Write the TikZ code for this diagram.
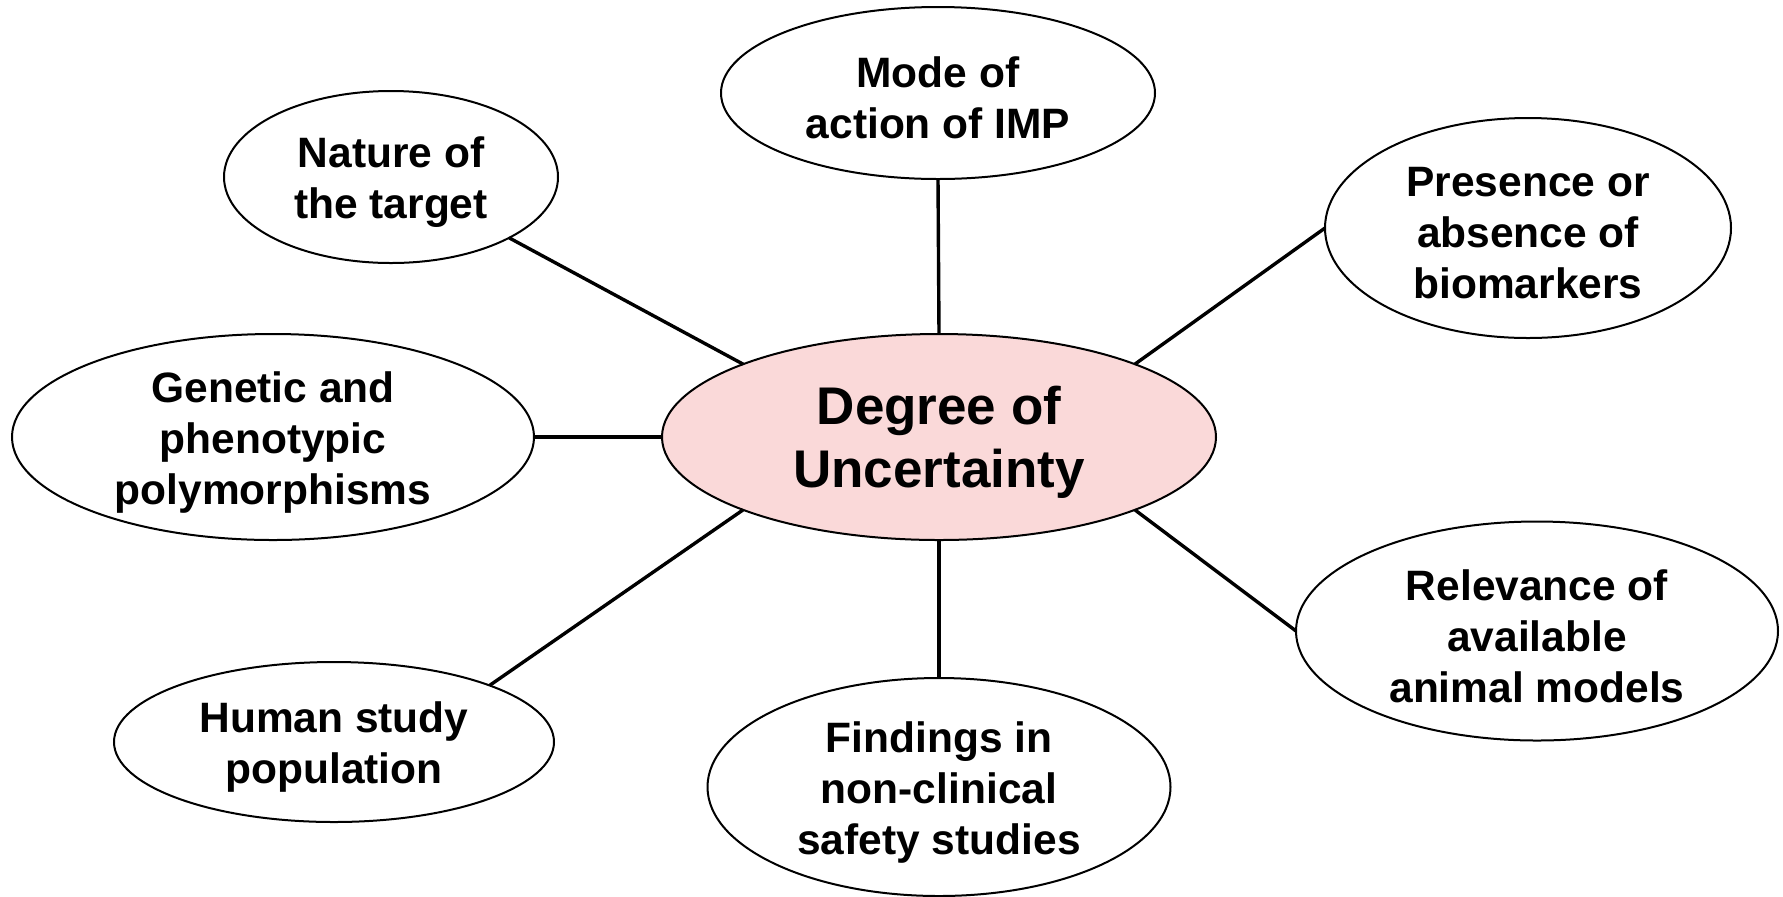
\documentclass[tikz,border=0pt]{standalone}
\usepackage{fontspec}
\setmainfont{Liberation Sans}
\usetikzlibrary{shapes.geometric}
\definecolor{corefill}{RGB}{250,217,217}
\begin{document}
\begin{tikzpicture}[x=0.5pt,y=-0.5pt,
  bubble/.style={ellipse,draw=black,line width=1pt,fill=white,inner sep=0pt,outer sep=0pt},
  caption/.style={align=center,font=\bfseries\fontsize{21.25}{25.5}\selectfont,inner sep=0pt,yshift=-2.6pt},
  bigcaption/.style={align=center,font=\bfseries\fontsize{26.5}{31.5}\selectfont,inner sep=0pt,yshift=-2.8pt},
  spoke/.style={line width=1.7pt}]
\useasboundingbox (0,0) rectangle (1783,896);

% outer ellipses
\node[bubble,fill=corefill,minimum width=277pt,minimum height=103pt] (core) at (939,437) {};
\node[bubble,minimum width=217pt,minimum height=86pt] (mode) at (938,93) {};
\node[bubble,minimum width=167pt,minimum height=86pt] (nature) at (391,177) {};
\node[bubble,minimum width=203pt,minimum height=110pt] (presence) at (1528,228) {};
\node[bubble,minimum width=261pt,minimum height=103pt] (genetic) at (273,437) {};
\node[bubble,minimum width=241pt,minimum height=109.5pt] (relevance) at (1537,631) {};
\node[bubble,minimum width=220pt,minimum height=80pt] (human) at (334,742) {};
\node[bubble,minimum width=231.5pt,minimum height=109pt] (findings) at (939,787) {};

% captions
\node[bigcaption] (core-t) at (core) {Degree of\\Uncertainty};
\node[caption] (mode-t) at (mode) {Mode of\\action of IMP};
\node[caption] (nature-t) at (nature) {Nature of\\the target};
\node[caption] (presence-t) at (presence) {Presence or\\absence of\\biomarkers};
\node[caption] (genetic-t) at (genetic) {Genetic and\\phenotypic\\polymorphisms};
\node[caption] (relevance-t) at (relevance) {Relevance of\\available\\animal models};
\node[caption] (human-t) at (human) {Human study\\population};
\node[caption] (findings-t) at (findings) {Findings in\\non-clinical\\safety studies};

% spokes
\draw[spoke] (core.north) -- (mode.south);
\draw[spoke] (core.north west) -- (nature.south east);
\draw[spoke] (core.north east) -- (presence.west);
\draw[spoke] (core.west) -- (genetic.east);
\draw[spoke] (core.south east) -- (relevance.west);
\draw[spoke] (core.south west) -- (human.north east);
\draw[spoke] (core.south) -- (findings.north);
\end{tikzpicture}
\end{document}
